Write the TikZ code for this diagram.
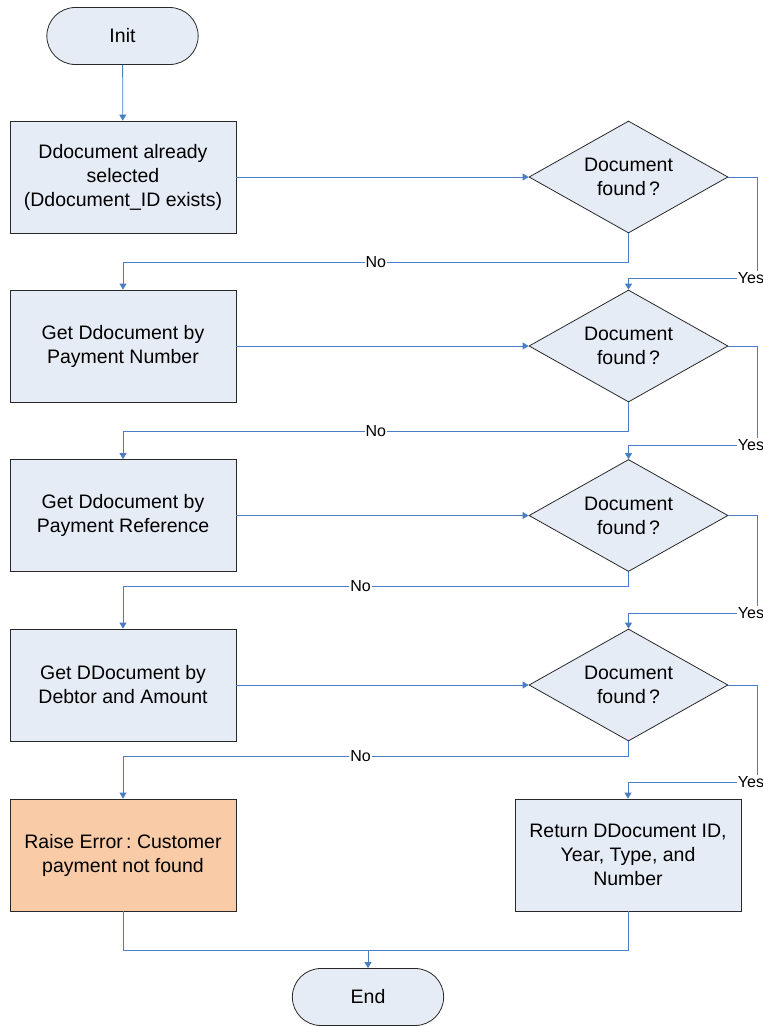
\documentclass[tikz,border=0pt]{standalone}
\usepackage{fontspec}
\setmainfont{Liberation Sans}
\usetikzlibrary{shapes.geometric,shapes.misc,arrows.meta}
\definecolor{boxfill}{RGB}{230,236,246}
\definecolor{errfill}{RGB}{249,203,166}
\definecolor{linecol}{RGB}{74,126,196}
\definecolor{edge}{RGB}{40,40,40}
\frenchspacing
\begin{document}
\begin{tikzpicture}[x=1pt,y=-1pt,
  every node/.style={font=\fontsize{19.5}{24}\selectfont},
  proc/.style={draw=edge,line width=0.8pt,fill=boxfill,rectangle,minimum width=226pt,minimum height=112pt,align=center,inner sep=2pt},
  errbox/.style={proc,fill=errfill},
  term/.style={draw=edge,line width=0.8pt,fill=boxfill,rounded rectangle,minimum width=158pt,minimum height=57pt},
  dec/.style={draw=edge,line width=0.8pt,fill=boxfill,diamond,aspect=1.78,minimum width=199pt,minimum height=112pt,inner sep=0pt,align=center},
  conn/.style={draw=linecol,line width=0.8pt,-{Triangle[width=7pt,length=6pt]}},
  lbl/.style={fill=white,inner sep=1pt,font=\fontsize{16}{18}\selectfont}
]
\useasboundingbox (0,0) rectangle (763,1026);
\node[term] (init) at (122.5,36) {Init};
\node[proc] (b1) at (123,177) {Ddocument already\\selected\\(Ddocument\_ID exists)};
\node[dec] (d1) at (628.5,177) {Document\\found\,?};
\node[proc] (b2) at (123,346) {Get Ddocument by\\Payment Number};
\node[dec] (d2) at (628.5,346) {Document\\found\,?};
\node[proc] (b3) at (123,515.5) {Get Ddocument by\\Payment Reference};
\node[dec] (d3) at (628.5,515.5) {Document\\found\,?};
\node[proc] (b4) at (123,685) {Get DDocument by\\Debtor and Amount};
\node[dec] (d4) at (628.5,685) {Document\\found\,?};
\node[errbox] (err) at (123,855) {Raise Error\,: Customer\\payment not found};
\node[proc] (ret) at (628,855) {Return DDocument ID,\\Year, Type, and\\Number};
\node[term] (end) at (368,997) {End};

\draw[conn] (init) -- (b1);
\draw[conn] (b1) -- (d1);
\draw[conn] (b2) -- (d2);
\draw[conn] (b3) -- (d3);
\draw[conn] (b4) -- (d4);

% No branches
\draw[conn] (d1.south) -- (628.5,262) -- node[lbl,pos=0.5]{No} (123,262) -- (b2.north);
\draw[conn] (d2.south) -- (628.5,431) -- node[lbl,pos=0.5]{No} (123,431) -- (b3.north);
\draw[conn] (d3.south) -- (628.5,586) -- node[lbl,pos=0.53]{No} (123,586) -- (b4.north);
\draw[conn] (d4.south) -- (628.5,756) -- node[lbl,pos=0.53]{No} (123,756) -- (err.north);

% Yes branches
\coordinate (y1) at (757,278);
\coordinate (y2) at (757,445);
\coordinate (y3) at (757,613);
\coordinate (y4) at (757,782);
\draw[conn] (d1.east) -- (757,177) -- (y1) -- (628.5,278) -- (d2.north);
\draw[conn] (d2.east) -- (757,346) -- (y2) -- (628.5,445) -- (d3.north);
\draw[conn] (d3.east) -- (757,515.5) -- (y3) -- (628.5,613) -- (d4.north);
\draw[conn] (d4.east) -- (757,685) -- (y4) -- (628,782) -- (ret.north);
\node[lbl] at (751,278) {Yes};
\node[lbl] at (751,445) {Yes};
\node[lbl] at (751,613) {Yes};
\node[lbl] at (751,782) {Yes};

% merge to End
\draw[draw=linecol,line width=0.8pt] (err.south) -- (123,950) -- (628,950) -- (ret.south);
\draw[conn] (368,950) -- (end.north);
\end{tikzpicture}
\end{document}
